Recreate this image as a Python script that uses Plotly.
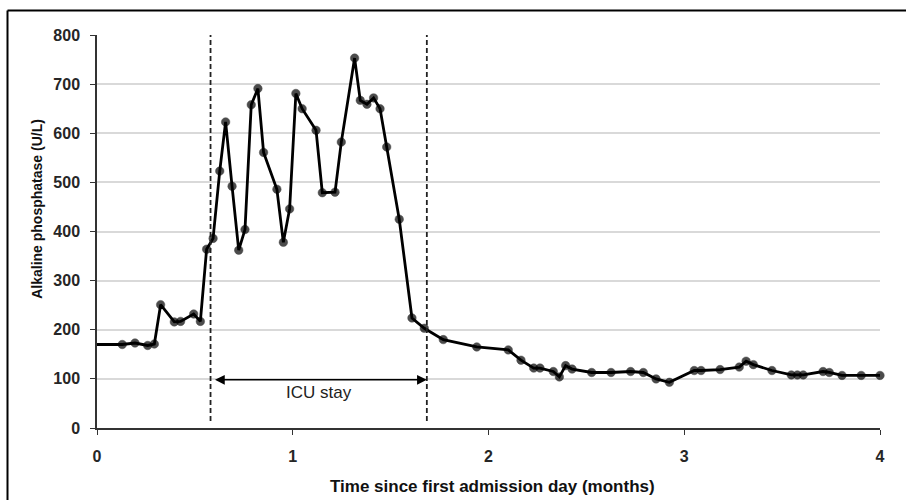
import plotly.graph_objects as go

months = [0, 0.129, 0.194, 0.259, 0.293, 0.325, 0.395, 0.427, 0.494, 0.528, 0.560, 0.593,
          0.627, 0.657, 0.690, 0.724, 0.756, 0.788, 0.822, 0.851, 0.919, 0.952, 0.984,
          1.016, 1.048, 1.119, 1.151, 1.216, 1.248, 1.316, 1.345, 1.379, 1.413, 1.446,
          1.480, 1.544, 1.609, 1.672, 1.769, 1.940, 2.101, 2.166, 2.231, 2.263, 2.331,
          2.362, 2.394, 2.427, 2.527, 2.626, 2.726, 2.791, 2.856, 2.924, 3.051, 3.086,
          3.183, 3.281, 3.316, 3.353, 3.448, 3.547, 3.578, 3.608, 3.709, 3.741, 3.806,
          3.904, 4.0]
alp = [170, 170, 173, 168, 171, 251, 216, 217, 232, 217, 364, 386,
       523, 623, 492, 362, 404, 658, 691, 561, 486, 378, 446,
       681, 650, 606, 479, 480, 582, 753, 667, 659, 672, 650,
       572, 425, 224, 203, 180, 165, 159, 138, 122, 122, 115,
       104, 127, 120, 113, 113, 115, 113, 100, 93, 117, 117,
       119, 124, 136, 129, 117, 108, 108, 108, 115, 113, 107,
       107, 107]

icu_start = 0.58
icu_end = 1.685
icu_label = "ICU stay"
x_ticks = [0, 1, 2, 3, 4]
y_ticks = [0, 100, 200, 300, 400, 500, 600, 700, 800]
x_title = "Time since first admission day (months)"
y_title = "Alkaline phosphatase (U/L)"

marker_sizes = [0] + [8.5] * (len(months) - 1)

FONT = "Liberation Sans, Arial, sans-serif"

fig = go.Figure()
fig.add_trace(go.Scatter(
    x=months, y=alp, mode="lines+markers",
    line=dict(color="black", width=2.8),
    marker=dict(color="black", size=marker_sizes, line=dict(color="black", width=0.5)),
    cliponaxis=False, showlegend=False,
))

tickfont = dict(family=FONT, size=16, color="#262626", weight="bold")

fig.update_layout(
    width=906, height=500,
    margin=dict(l=97, r=26, t=35, b=72),
    plot_bgcolor="white", paper_bgcolor="white",
    xaxis=dict(range=[0, 4], tickvals=x_ticks, showgrid=False, zeroline=False,
               showline=True, linecolor="#333333", linewidth=1.5,
               ticks="outside", ticklen=5, tickcolor="#333333", tickwidth=1.2,
               tickfont=tickfont, ticklabelstandoff=8),
    yaxis=dict(range=[0, 800], tickvals=y_ticks, showgrid=True, gridcolor="#d9d9d9",
               gridwidth=1.5, zeroline=False,
               showline=True, linecolor="#333333", linewidth=1.5,
               ticks="outside", ticklen=5, tickcolor="#333333", tickwidth=1.2,
               tickfont=tickfont, ticklabelstandoff=7),
)

for xv in (icu_start, icu_end):
    fig.add_shape(type="line", xref="x", yref="y", x0=xv, x1=xv, y0=14, y1=800,
                  line=dict(color="#222222", width=1.8, dash="5px,3px"))

fig.add_annotation(x=icu_end, y=98, ax=icu_start + 0.015, ay=98, xref="x", yref="y",
                   axref="x", ayref="y", text="", showarrow=True,
                   arrowhead=2, startarrowhead=2, arrowside="end+start",
                   arrowsize=1.3, startarrowsize=1.3, arrowwidth=1.5, arrowcolor="black")
fig.add_annotation(x=(icu_start + icu_end) / 2, y=72, xref="x", yref="y",
                   text=icu_label, showarrow=False,
                   font=dict(family=FONT, size=17, color="#222222"))

fig.add_annotation(x=0.505, y=-0.15, xref="paper", yref="paper", text=x_title,
                   showarrow=False, xanchor="center", yanchor="middle",
                   font=dict(family=FONT, size=17, color="#111111", weight="bold"))
fig.add_annotation(x=-0.077, y=0.557, xref="paper", yref="paper", text=y_title,
                   showarrow=False, xanchor="center", yanchor="middle", textangle=-90,
                   font=dict(family=FONT, size=14, color="#111111", weight="bold"))

# outer frame (left and top edges visible in the reference)
fig.add_shape(type="line", xref="paper", yref="paper", x0=-0.1143, x1=-0.1143,
              y0=-0.3, y1=1.0623, line=dict(color="black", width=2))
fig.add_shape(type="line", xref="paper", yref="paper", x0=-0.1143, x1=1.1,
              y0=1.0623, y1=1.0623, line=dict(color="black", width=2))

fig.write_html("out.html", config={"displayModeBar": False},
               post_script="document.body.style.margin='0';")
